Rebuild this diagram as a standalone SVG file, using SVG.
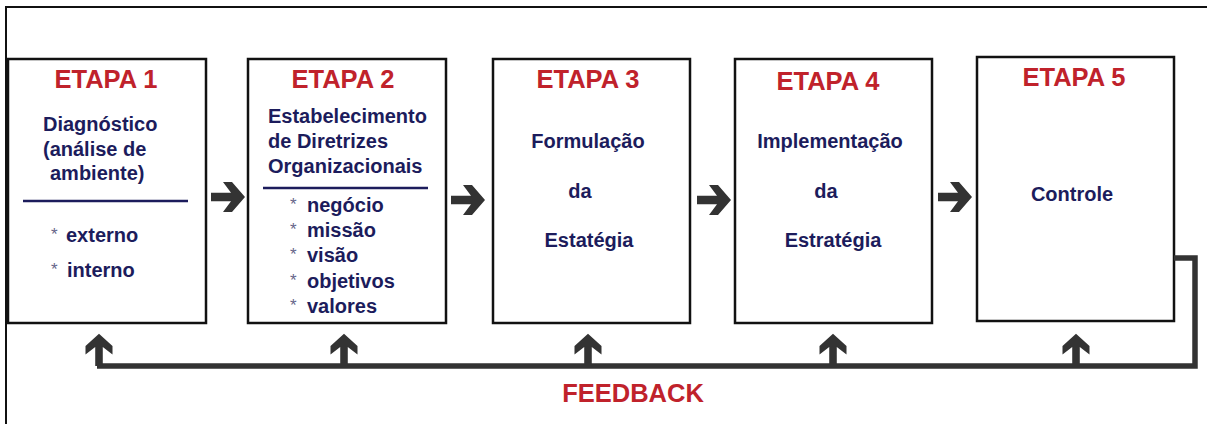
<svg xmlns="http://www.w3.org/2000/svg" width="1207" height="424" viewBox="0 0 1207 424">
<style>
.box{fill:#fff;stroke:#111;stroke-width:2.5}
.et{font-family:"Liberation Sans",Arial,sans-serif;font-weight:bold;font-size:25.5px;fill:#c0222b;text-anchor:middle}
.tx{font-family:"Liberation Sans",Arial,sans-serif;font-weight:bold;font-size:20px;fill:#1c1c5c}
.c{text-anchor:middle}
.ast{font-weight:normal;font-size:17px;fill:#66668a}
.ul{stroke:#1c1c5c;stroke-width:2.5}
.fb{fill:none;stroke:#333;stroke-width:5.5}
.arr{fill:#333}
</style>
<defs>
<path id="arr" d="M0,-4.2 H20 L12,-15 H21 L34,0 L21,15 H12 L20,4.2 H0 Z"/>
</defs>
<rect x="0" y="0" width="1207" height="424" fill="#fff"/>
<path d="M6,424 V7 H1207" fill="none" stroke="#111" stroke-width="2"/>

<g id="etapa1">
<rect class="box" x="8" y="59" width="198" height="264"/>
<text class="et" x="106" y="88">ETAPA 1</text>
<text class="tx" x="43" y="131">Diagnóstico</text>
<text class="tx" x="43" y="156">(análise de</text>
<text class="tx" x="50" y="180">ambiente)</text>
<line class="ul" x1="23" y1="201" x2="188" y2="201"/>
<text class="tx ast" x="51" y="240">*</text>
<text class="tx" x="66" y="242">externo</text>
<text class="tx ast" x="51" y="275">*</text>
<text class="tx" x="67" y="277">interno</text>
</g>

<g id="etapa2">
<rect class="box" x="248" y="59" width="198" height="264"/>
<text class="et" x="343" y="88">ETAPA 2</text>
<text class="tx" x="268" y="123">Estabelecimento</text>
<text class="tx" x="268" y="148">de Diretrizes</text>
<text class="tx" x="268" y="173">Organizacionais</text>
<line class="ul" x1="263" y1="188" x2="428" y2="188"/>
<text class="tx ast" x="290" y="210">*</text>
<text class="tx" x="307" y="212">negócio</text>
<text class="tx ast" x="290" y="235">*</text>
<text class="tx" x="307" y="237">missão</text>
<text class="tx ast" x="290" y="260">*</text>
<text class="tx" x="307" y="262">visão</text>
<text class="tx ast" x="290" y="286">*</text>
<text class="tx" x="307" y="288">objetivos</text>
<text class="tx ast" x="290" y="311">*</text>
<text class="tx" x="307" y="313">valores</text>
</g>

<g id="etapa3">
<rect class="box" x="493" y="59" width="197" height="264"/>
<text class="et" x="588" y="88">ETAPA 3</text>
<text class="tx c" x="588" y="148">Formulação</text>
<text class="tx c" x="580" y="198">da</text>
<text class="tx c" x="589" y="247">Estatégia</text>
</g>

<g id="etapa4">
<rect class="box" x="735" y="59" width="197" height="264"/>
<text class="et" x="828" y="90">ETAPA 4</text>
<text class="tx c" x="830" y="148">Implementação</text>
<text class="tx c" x="826" y="198">da</text>
<text class="tx c" x="833" y="247">Estratégia</text>
</g>

<g id="etapa5">
<rect class="box" x="977" y="57" width="197" height="264"/>
<text class="et" x="1074" y="86">ETAPA 5</text>
<text class="tx c" x="1072" y="201">Controle</text>
</g>

<g id="connectors">
<use href="#arr" class="arr" transform="translate(211,197)"/>
<use href="#arr" class="arr" transform="translate(451,200)"/>
<use href="#arr" class="arr" transform="translate(697,200)"/>
<use href="#arr" class="arr" transform="translate(938,197)"/>
<path class="fb" d="M1174,258 H1195 V366 H97"/>
<use href="#arr" class="arr" transform="translate(99,366) rotate(-90) scale(0.95,0.9)"/>
<use href="#arr" class="arr" transform="translate(344,366) rotate(-90) scale(0.95,0.9)"/>
<use href="#arr" class="arr" transform="translate(588,366) rotate(-90) scale(0.95,0.9)"/>
<use href="#arr" class="arr" transform="translate(833,366) rotate(-90) scale(0.95,0.9)"/>
<use href="#arr" class="arr" transform="translate(1076,366) rotate(-90) scale(0.95,0.9)"/>
</g>

<g id="feedback">
<text class="et" x="633" y="402" font-size="26">FEEDBACK</text>
</g>
</svg>
